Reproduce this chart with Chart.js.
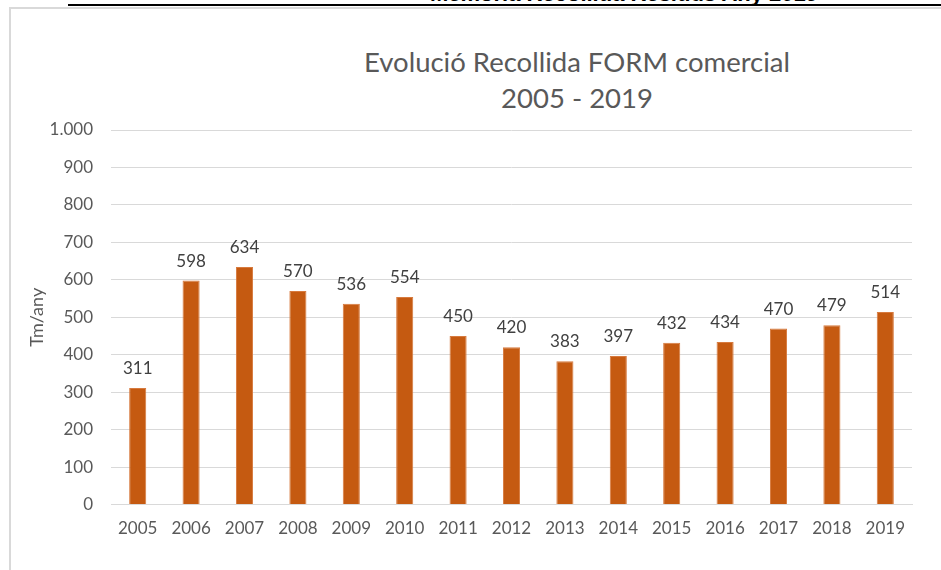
<!DOCTYPE html>
<html>
<head>
<meta charset="utf-8">
<script src="https://cdn.jsdelivr.net/npm/chart.js@4"></script>
<style>
  html, body { margin: 0; padding: 0; width: 941px; height: 570px; overflow: hidden; background: #fff; }
  #doc-head { position: absolute; left: 430px; top: -19px; font: bold 22px "Liberation Sans", Arial, sans-serif; color: #000; white-space: nowrap; }
  #doc-rule { position: absolute; left: 68px; top: 4px; width: 900px; height: 2px; background: #000; }
  #frame { position: absolute; left: 9px; top: 7px; width: 1100px; height: 700px; border: 2px solid #d9d9d9; box-sizing: border-box; }
  #title { position: absolute; left: 277px; top: 44px; width: 600px; text-align: center; font: 27.5px Lato, sans-serif; line-height: 36px; color: #595959; }
  #wrap { position: absolute; left: 0; top: 0; width: 941px; height: 570px; }
</style>
</head>
<body>
<div id="doc-head">Memòria Recollida Residus Any 2019</div>
<div id="doc-rule"></div>
<div id="frame"></div>
<div id="title">Evolució Recollida FORM comercial<br>2005 - 2019</div>
<div id="wrap"><canvas id="chart"></canvas></div>
<script>
// data
const years = ['2005', '2006', '2007', '2008', '2009', '2010', '2011', '2012', '2013', '2014', '2015', '2016', '2017', '2018', '2019'];
const tonnes = [311, 598, 634, 570, 536, 554, 450, 420, 383, 397, 432, 434, 470, 479, 514];
const yMax = 1000;
const yStep = 100;

// labels over the bars
const barLabels = {
  id: 'barLabels',
  afterDatasetsDraw(chart) {
    const ctx = chart.ctx;
    const meta = chart.getDatasetMeta(0);
    ctx.save();
    ctx.font = '17px Lato, sans-serif';
    ctx.fillStyle = '#404040';
    ctx.textAlign = 'center';
    ctx.textBaseline = 'alphabetic';
    meta.data.forEach((bar, i) => {
      ctx.fillText(String(tonnes[i]), bar.x, bar.y - 14);
    });
    ctx.restore();
  }
};

const ctx = document.getElementById('chart').getContext('2d');
new Chart(ctx, {
  type: 'bar',
  data: {
    labels: years,
    datasets: [{
      label: 'Tm/any',
      data: tonnes,
      backgroundColor: '#c55a11',
      borderColor: '#d77a3e',
      borderWidth: 1,
      categoryPercentage: 1,
      barPercentage: 0.32
    }]
  },
  options: {
    responsive: true,
    maintainAspectRatio: false,
    animation: false,
    layout: { padding: { left: 20, right: 29, top: 130, bottom: 17 } },
    plugins: {
      legend: { display: false },
      tooltip: { enabled: false }
    },
    scales: {
      x: {
        grid: { display: false, drawTicks: false },
        border: { display: true, color: '#d9d9d9', width: 1 },
        ticks: { color: '#595959', font: { family: 'Lato', size: 17 }, padding: 14, maxRotation: 0 }
      },
      y: {
        min: 0,
        max: yMax,
        grid: { color: '#d9d9d9', lineWidth: 1, drawTicks: false },
        border: { display: false },
        ticks: {
          stepSize: yStep,
          color: '#595959',
          font: { family: 'Lato', size: 17 },
          padding: 18,
          callback: v => v >= 1000 ? v.toLocaleString('de-DE') : String(v)
        },
        title: { display: true, text: 'Tm/any', color: '#595959', font: { family: 'Lato', size: 18 }, padding: { top: 6, bottom: 0 } },
        afterFit(scale) { scale.width = 91; }
      }
    }
  },
  plugins: [barLabels]
});
</script>
</body>
</html>
